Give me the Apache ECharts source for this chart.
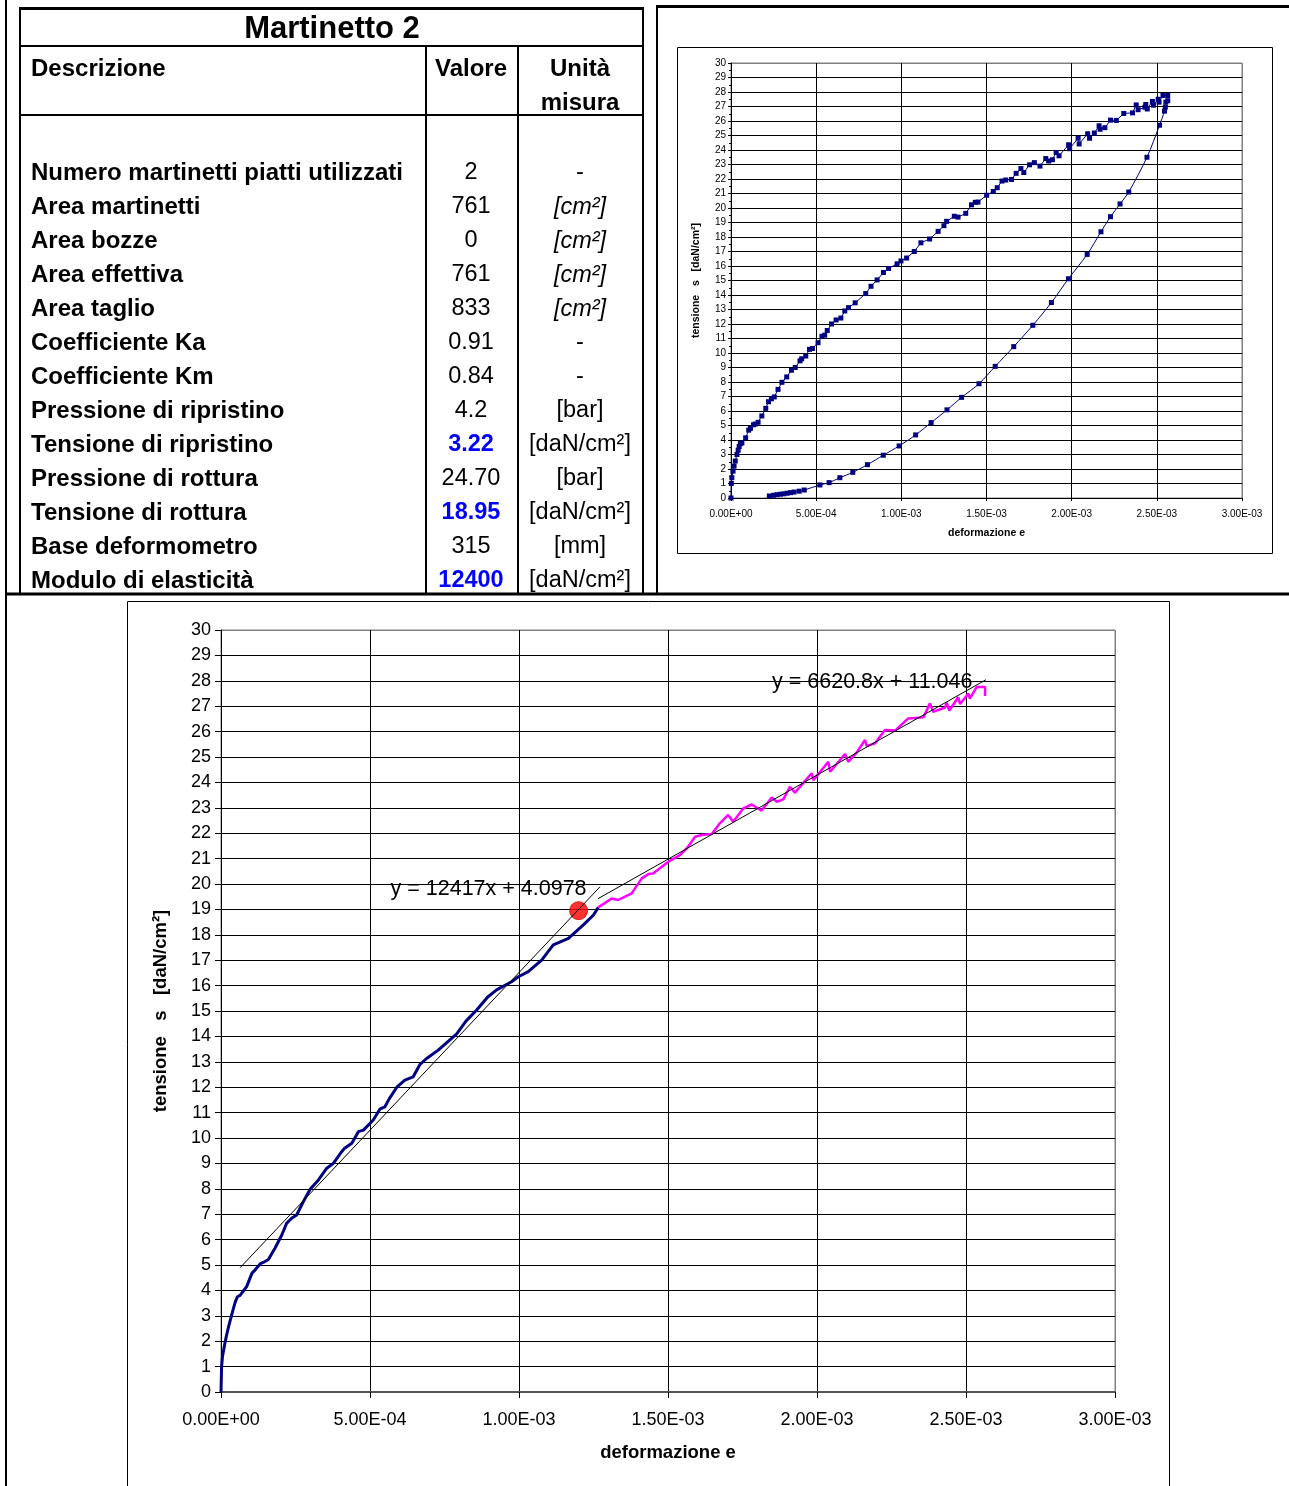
<!DOCTYPE html>
<html lang="it">
<head>
<meta charset="utf-8">
<title>Martinetto 2</title>
<script src="https://cdn.jsdelivr.net/npm/echarts@6/dist/echarts.min.js"></script>
<style>
html, body { margin: 0; padding: 0; background: #fff; }
#chart { width: 1289px; height: 1486px; }
</style>
</head>
<body>
<div id="chart"></div>
<script>
// ---- Tabella parametri della prova ----
const titoloProva = 'Martinetto 2';
const intestazioni = ['Descrizione', 'Valore', 'Unità', 'misura'];
const descrizioni = [
  'Numero martinetti piatti utilizzati', 'Area martinetti', 'Area bozze', 'Area effettiva',
  'Area taglio', 'Coefficiente Ka', 'Coefficiente Km', 'Pressione di ripristino',
  'Tensione di ripristino', 'Pressione di rottura', 'Tensione di rottura',
  'Base deformometro', 'Modulo di elasticità'
];
const tensioneRottura = 18.95;
const valori = ['2', '761', '0', '761', '833', '0.91', '0.84', '4.2', '3.22', '24.70',
  tensioneRottura.toFixed(2), '315', '12400'];
const unita = ['-', '[cm²]', '[cm²]', '[cm²]', '[cm²]', '-', '-', '[bar]', '[daN/cm²]',
  '[bar]', '[daN/cm²]', '[mm]', '[daN/cm²]'];
// grandezze ricavate dalla prova (evidenziate in tabella)
const risultati = ['Tensione di ripristino', 'Tensione di rottura', 'Modulo di elasticità'];

// ---- Curva tensione - deformazione ----
// ramo di carico, primo tratto [deformazione, tensione daN/cm²]
const carico1 = [
  [0, 0], [0.000002, 1.0], [0.000005, 1.4], [0.000012, 1.85], [0.000018, 2.2], [0.000025, 2.55],
  [0.000035, 3.0], [0.000042, 3.3], [0.000048, 3.55], [0.000055, 3.75], [0.000064, 3.8],
  [0.000086, 4.15], [0.000104, 4.68], [0.000114, 4.8], [0.000132, 5.05], [0.000142, 5.1],
  [0.000159, 5.22], [0.000181, 5.66], [0.000204, 6.18], [0.00022, 6.64], [0.000237, 6.84],
  [0.000254, 6.97], [0.000276, 7.49], [0.000299, 7.98], [0.000327, 8.35], [0.000355, 8.81],
  [0.000377, 9.0], [0.000405, 9.46], [0.000415, 9.6], [0.000439, 9.79], [0.000461, 10.25],
  [0.000478, 10.31], [0.000511, 10.71], [0.000534, 11.15], [0.00055, 11.23], [0.000565, 11.55],
  [0.00059, 12.0], [0.000617, 12.28], [0.000645, 12.41], [0.000668, 12.9], [0.00069, 13.13],
  [0.000729, 13.46], [0.000791, 14.1], [0.000822, 14.6], [0.000858, 15.04], [0.000895, 15.55],
  [0.000925, 15.83], [0.000975, 16.15], [0.000998, 16.35], [0.001031, 16.55], [0.001076, 17.0],
  [0.001115, 17.6], [0.001166, 17.86], [0.001216, 18.39], [0.00125, 18.78], [0.001266, 19.08]
];
// ramo di carico, secondo tratto
const carico2 = [
  [0.001266, 19.08], [0.001311, 19.43], [0.001333, 19.37], [0.001378, 19.63], [0.001412, 20.22],
  [0.001434, 20.39], [0.00145, 20.41], [0.001501, 20.88], [0.00154, 21.14], [0.001563, 21.4],
  [0.001591, 21.86], [0.001613, 21.93], [0.001647, 21.97], [0.001674, 22.39], [0.001702, 22.72],
  [0.001719, 22.45], [0.001753, 22.98], [0.001781, 23.13], [0.001814, 22.89], [0.001848, 23.41],
  [0.001865, 23.24], [0.001887, 23.33], [0.001909, 23.83], [0.001926, 23.6], [0.001982, 24.36],
  [0.001988, 24.09], [0.002038, 24.81], [0.002044, 24.42], [0.002094, 25.12], [0.002105, 24.81],
  [0.002133, 25.17], [0.002161, 25.67], [0.002167, 25.43], [0.002195, 25.54], [0.002228, 26.06],
  [0.002262, 26.04], [0.002306, 26.52], [0.002357, 26.56], [0.002379, 27.11], [0.00239, 26.78],
  [0.00243, 26.95], [0.002435, 27.14], [0.002444, 26.83], [0.002474, 27.35], [0.00248, 27.09],
  [0.002508, 27.5], [0.002513, 27.3], [0.002536, 27.76], [0.002564, 27.76], [0.002564, 27.4]
];
// ramo di scarico
const scarico = [
  [0.002564, 27.4], [0.002553, 27.3], [0.00255, 26.96], [0.002545, 26.68], [0.002516, 25.71],
  [0.002442, 23.5], [0.002335, 21.1], [0.002284, 20.28], [0.002228, 19.4], [0.002172, 18.36],
  [0.002091, 16.8], [0.001981, 15.12], [0.001881, 13.48], [0.001772, 11.91], [0.00166, 10.44],
  [0.001551, 9.08], [0.001456, 7.88], [0.001354, 6.94], [0.001268, 6.08], [0.001175, 5.2],
  [0.001084, 4.35], [0.000987, 3.59], [0.000894, 2.95], [0.000801, 2.3], [0.000715, 1.77],
  [0.000639, 1.4], [0.000576, 1.06], [0.000522, 0.9], [0.00043, 0.55], [0.0004, 0.47],
  [0.00037, 0.41], [0.00035, 0.37], [0.00033, 0.33], [0.00031, 0.29], [0.00029, 0.26],
  [0.00027, 0.23], [0.00025, 0.19], [0.000225, 0.14]
];
// punto di rottura
const deformazioneRottura = 0.0012;

// rette di regressione: [pendenza, intercetta] ed estremi in deformazione
const retta1 = [12417, 4.0978];
const retta1Estremi = [0.000064, 0.001272];
const retta2 = [6620.8, 11.046];
const retta2Estremi = [0.001265, 0.002567];

// etichette degli assi
const xTickLabels = ['0.00E+00', '5.00E-04', '1.00E-03', '1.50E-03', '2.00E-03', '2.50E-03', '3.00E-03'];
const yTickLabels = Array.from({ length: 31 }, (_, i) => String(i));
const titoloX = 'deformazione e';
const titoloY = 'tensione   s   [daN/cm²]';

// ---------------------------------------------------------------
const FONT = '"Liberation Sans", Arial, Helvetica, sans-serif';
const X_STEP = 0.0005;

function rettaPunti(r, estremi) {
  return estremi.map(x => [x, r[1] + r[0] * x]);
}
function testoRetta(r) {
  return 'y = ' + r[0] + 'x + ' + r[1];
}

function assiGrafico(gi, opt) {
  const gridYColors = yTickLabels.map((_, i) => i === yTickLabels.length - 1 ? '#808080' : '#000');
  const gridXColors = xTickLabels.map((_, i) => i === xTickLabels.length - 1 ? '#808080' : '#000');
  const x = {
    type: 'value', gridIndex: gi, min: 0, max: 0.003, interval: X_STEP,
    axisLine: { show: true, lineStyle: { color: opt.xLineColor, width: opt.xLineWidth } },
    axisTick: { show: true, inside: false, length: opt.tick, lineStyle: { color: '#000' } },
    axisLabel: {
      color: '#000', fontFamily: FONT, fontSize: opt.fs, margin: opt.xMargin,
      formatter: v => xTickLabels[Math.round(v / X_STEP)]
    },
    splitLine: { show: true, lineStyle: { color: gridXColors, width: 1 } },
    name: titoloX, nameLocation: 'middle', nameGap: opt.xNameGap,
    nameTextStyle: { color: '#000', fontFamily: FONT, fontSize: opt.nameFs, fontWeight: 'bold' }
  };
  const y = {
    type: 'value', gridIndex: gi, min: 0, max: 30, interval: 1,
    axisLine: { show: true, lineStyle: { color: '#000', width: 1 } },
    axisTick: { show: true, inside: false, length: opt.tick, lineStyle: { color: '#000' } },
    minorTick: opt.minor ? { show: true, splitNumber: 2, length: 2, lineStyle: { color: '#000' } } : { show: false },
    axisLabel: {
      color: '#000', fontFamily: FONT, fontSize: opt.fs, margin: opt.yMargin,
      formatter: v => yTickLabels[Math.round(v)]
    },
    splitLine: { show: true, lineStyle: { color: gridYColors, width: 1 } },
    name: titoloY, nameLocation: 'middle', nameGap: opt.yNameGap, nameRotate: 90,
    nameTextStyle: { color: '#000', fontFamily: FONT, fontSize: opt.nameFs, fontWeight: 'bold' }
  };
  return { x, y };
}

// ---- elementi grafici della tabella e delle cornici ----
const graphic = [];
function linea(x1, y1, x2, y2, w) {
  graphic.push({ type: 'line', silent: true, z: 50,
    shape: { x1, y1, x2, y2 }, style: { stroke: '#000', lineWidth: w } });
}
function testo(t, x, y, o) {
  graphic.push({ type: 'text', silent: true, z: 60, x, y: y + 2,
    style: Object.assign({ text: t, fill: '#000', fontFamily: FONT, fontSize: 24,
      textAlign: 'left', textVerticalAlign: 'middle' }, o || {}) });
}
function cornice(x, y, w, h) {
  graphic.push({ type: 'rect', silent: true, z: 40,
    shape: { x, y, width: w, height: h }, style: { fill: 'none', stroke: '#000', lineWidth: 1 } });
}

// bordi pagina / tabella
linea(6, 0, 6, 1486, 2);
linea(19, 8.5, 644, 8.5, 3);
linea(656, 6.5, 1289, 6.5, 3);
linea(20, 8, 20, 594, 2);
linea(643, 8, 643, 594, 2);
linea(657, 6, 657, 594, 2);
linea(20, 46, 643, 46, 2);
linea(20, 115, 643, 115, 2);
linea(426, 46, 426, 594, 2);
linea(518, 46, 518, 594, 2);
linea(6, 594, 1289, 594, 3);
cornice(677.5, 47.5, 595, 506);
cornice(127.5, 601.5, 1042, 900);

// testi tabella
testo(titoloProva, 332, 27, { fontSize: 31, fontWeight: 'bold', textAlign: 'center' });
testo(intestazioni[0], 31, 67, { fontWeight: 'bold' });
testo(intestazioni[1], 471, 67, { fontWeight: 'bold', textAlign: 'center' });
testo(intestazioni[2], 580, 67, { fontWeight: 'bold', textAlign: 'center' });
testo(intestazioni[3], 580, 101, { fontWeight: 'bold', textAlign: 'center' });
descrizioni.forEach((d, i) => {
  const y = 171 + 34 * i;
  const evid = risultati.includes(d);
  testo(d, 31, y, { fontWeight: 'bold' });
  testo(valori[i], 471, y, { fontSize: 23.5, textAlign: 'center',
    fontWeight: evid ? 'bold' : 'normal', fill: evid ? '#0000FF' : '#000' });
  testo(unita[i], 580, y, { fontSize: 23.5, textAlign: 'center',
    fontStyle: unita[i].indexOf('cm²]') === 1 ? 'italic' : 'normal' });
});

// ---- assi ----
const grande = assiGrafico(0, { fs: 18, nameFs: 18.5, tick: 6, xMargin: 19, yMargin: 10,
  xNameGap: 51, yNameGap: 51, xLineColor: '#555', xLineWidth: 2, minor: false });
const piccolo = assiGrafico(1, { fs: 10, nameFs: 10.5, tick: 3, xMargin: 11, yMargin: 5,
  xNameGap: 30, yNameGap: 29, xLineColor: '#000', xLineWidth: 1, minor: true });

const navy = '#000080';
const etichettaRetta = (r) => ({
  show: true, position: 'left', distance: 13, offset: [0, 2], formatter: testoRetta(r),
  color: '#000', fontFamily: FONT, fontSize: 21.5
});

const option = {
  animation: false,
  backgroundColor: '#fff',
  graphic: graphic,
  grid: [
    { left: 221, right: 174, top: 630, bottom: 94, show: true, borderColor: '#808080', borderWidth: 1, backgroundColor: 'transparent' },
    { left: 731, right: 47, top: 63, bottom: 988, show: true, borderColor: '#808080', borderWidth: 1, backgroundColor: 'transparent' }
  ],
  xAxis: [grande.x, piccolo.x],
  yAxis: [grande.y, piccolo.y],
  series: [
    { type: 'line', xAxisIndex: 0, yAxisIndex: 0, data: carico1, showSymbol: false, symbol: 'none',
      lineStyle: { color: navy, width: 3 }, itemStyle: { color: navy }, z: 3 },
    { type: 'line', xAxisIndex: 0, yAxisIndex: 0, data: carico2, showSymbol: false, symbol: 'none',
      lineStyle: { color: '#FF00FF', width: 2.5 }, itemStyle: { color: '#FF00FF' }, z: 3 },
    { type: 'scatter', xAxisIndex: 0, yAxisIndex: 0, data: [[deformazioneRottura, tensioneRottura]],
      symbol: 'circle', symbolSize: 18, itemStyle: { color: '#FF0000', borderColor: '#D00000', borderWidth: 1 }, z: 4 },
    { type: 'line', xAxisIndex: 0, yAxisIndex: 0, symbol: 'circle', symbolSize: 1, showSymbol: true,
      data: rettaPunti(retta1, retta1Estremi).map((p, i) => i === 1 ? { value: p, label: etichettaRetta(retta1) } : { value: p }),
      lineStyle: { color: '#000', width: 1 }, itemStyle: { color: 'rgba(0,0,0,0)' }, z: 5 },
    { type: 'line', xAxisIndex: 0, yAxisIndex: 0, symbol: 'circle', symbolSize: 1, showSymbol: true,
      data: rettaPunti(retta2, retta2Estremi).map((p, i) => i === 1 ? { value: p, label: etichettaRetta(retta2) } : { value: p }),
      lineStyle: { color: '#000', width: 1 }, itemStyle: { color: 'rgba(0,0,0,0)' }, z: 5 },
    { type: 'line', xAxisIndex: 1, yAxisIndex: 1, data: carico1.concat(carico2.slice(1, -1)),
      symbol: 'rect', symbolSize: 5, showSymbol: true,
      lineStyle: { color: navy, width: 1 }, itemStyle: { color: navy }, z: 3 },
    { type: 'line', xAxisIndex: 1, yAxisIndex: 1, data: scarico, smooth: 0.3,
      symbol: 'rect', symbolSize: 5, showSymbol: true,
      lineStyle: { color: navy, width: 1 }, itemStyle: { color: navy }, z: 3 }
  ]
};

const chart = echarts.init(document.getElementById('chart'), null, { renderer: 'canvas' });
chart.setOption(option);
</script>
</body>
</html>
